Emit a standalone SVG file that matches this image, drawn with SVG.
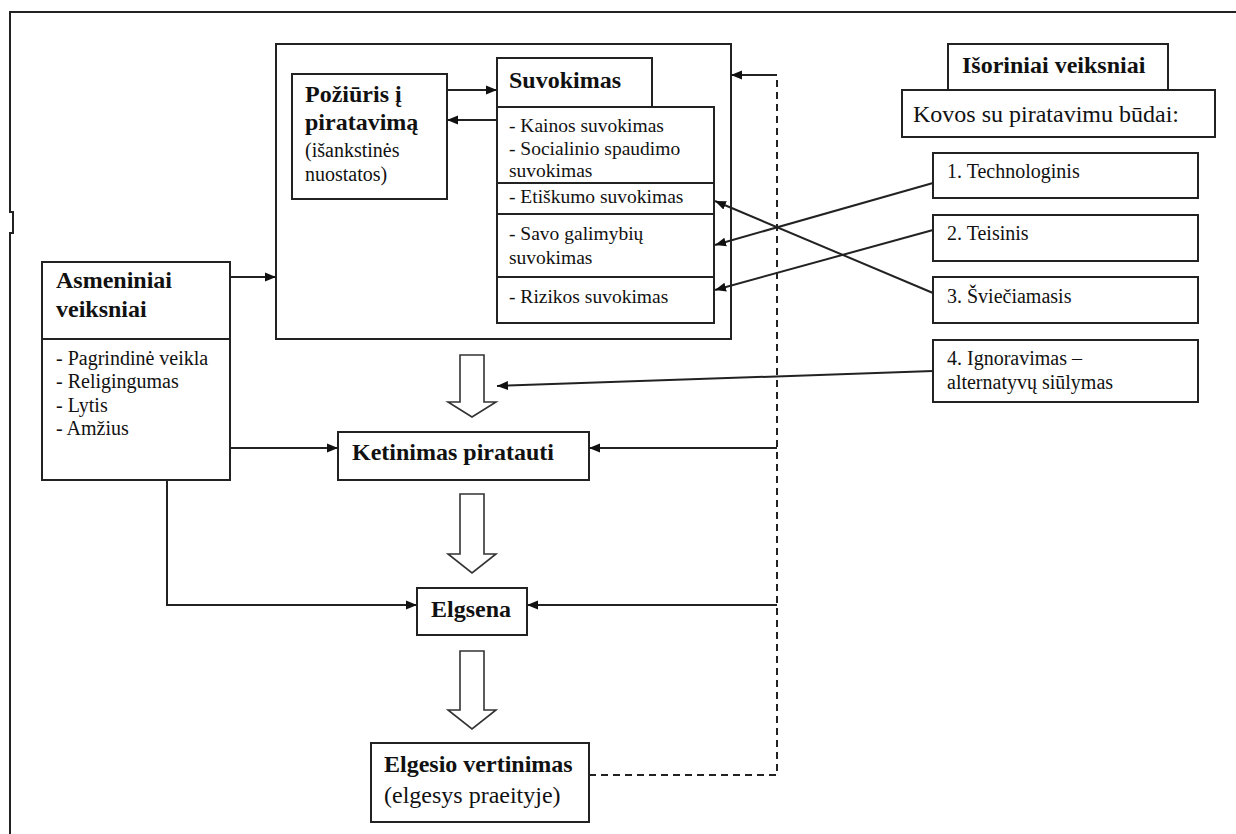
<svg xmlns="http://www.w3.org/2000/svg" width="1236" height="834" viewBox="0 0 1236 834">
<style>
.box{fill:#fff;stroke:#222;stroke-width:2}
.ln{fill:none;stroke:#222;stroke-width:2}
.dash{fill:none;stroke:#222;stroke-width:2;stroke-dasharray:7 5}
.hollow{fill:#fff;stroke:#333;stroke-width:1.6}
text{font-family:"Liberation Serif","Times New Roman","DejaVu Serif",serif;fill:#111}
.b24{font-size:24px;font-weight:bold}
.r24{font-size:24px;font-weight:normal}
.r20{font-size:20px;font-weight:normal}
.r19{font-size:19.5px;font-weight:normal}
</style>
<defs>
<marker id="ah" markerUnits="userSpaceOnUse" markerWidth="12" markerHeight="10" refX="11" refY="5" orient="auto">
<path d="M0,0.5 L11,5 L0,9.5 z" fill="#111"/>
</marker>
</defs>
<rect width="1236" height="834" fill="#fff"/>
<path class="ln" d="M1236 12 H10 V212 H13 V233 H10 V834"/>

<g id="suvokimas-container">
<rect class="box" x="276" y="44" width="455" height="295"/>
</g>
<g id="poziuris">
<rect class="box" x="292" y="74" width="155" height="125"/>
<text class="b24" x="305" y="102">Požiūris į</text>
<text class="b24" x="305" y="130">piratavimą</text>
<text class="r20" x="305" y="157">(išankstinės</text>
<text class="r20" x="305" y="181">nuostatos)</text>
</g>
<g id="suvokimas">
<rect class="box" x="497" y="58" width="155" height="49"/>
<text class="b24" x="509" y="88">Suvokimas</text>
<rect class="box" x="497" y="107" width="217" height="216"/>
<line class="ln" x1="497" y1="183" x2="714" y2="183"/>
<line class="ln" x1="497" y1="214" x2="714" y2="214"/>
<line class="ln" x1="497" y1="277" x2="714" y2="277"/>
<text class="r19" x="509" y="132">- Kainos suvokimas</text>
<text class="r19" x="509" y="155">- Socialinio spaudimo</text>
<text class="r19" x="509" y="177">suvokimas</text>
<text class="r19" x="509" y="203">- Etiškumo suvokimas</text>
<text class="r19" x="509" y="240">- Savo galimybių</text>
<text class="r19" x="509" y="264">suvokimas</text>
<text class="r19" x="509" y="303">- Rizikos suvokimas</text>
</g>
<g id="isoriniai">
<rect class="box" x="948" y="44" width="220" height="46"/>
<text class="b24" x="962" y="73">Išoriniai veiksniai</text>
<rect class="box" x="902" y="90" width="313" height="47"/>
<text class="r24" x="913" y="122">Kovos su piratavimu būdai:</text>
</g>
<g id="m1">
<rect class="box" x="933" y="153" width="265" height="45"/>
<text class="r20" x="947" y="178">1. Technologinis</text>
</g>
<g id="m2">
<rect class="box" x="933" y="215" width="265" height="46"/>
<text class="r20" x="947" y="240">2. Teisinis</text>
</g>
<g id="m3">
<rect class="box" x="933" y="277" width="265" height="46"/>
<text class="r20" x="947" y="303">3. Šviečiamasis</text>
</g>
<g id="m4">
<rect class="box" x="933" y="340" width="265" height="62"/>
<text class="r20" x="947" y="365">4. Ignoravimas –</text>
<text class="r20" x="947" y="389">alternatyvų siūlymas</text>
</g>
<g id="asmeniniai">
<rect class="box" x="42" y="262" width="188" height="218"/>
<line class="ln" x1="42" y1="339" x2="230" y2="339"/>
<text class="b24" x="56" y="288">Asmeniniai</text>
<text class="b24" x="56" y="317">veiksniai</text>
<text class="r20" x="56" y="365">- Pagrindinė veikla</text>
<text class="r20" x="56" y="388">- Religingumas</text>
<text class="r20" x="56" y="412">- Lytis</text>
<text class="r20" x="56" y="435">- Amžius</text>
</g>
<g id="ketinimas">
<rect class="box" x="338" y="432" width="251" height="48"/>
<text class="b24" x="352" y="460">Ketinimas piratauti</text>
</g>
<g id="elgsena">
<rect class="box" x="417" y="588" width="110" height="47"/>
<text class="b24" x="431" y="617">Elgsena</text>
</g>
<g id="elgesio">
<rect class="box" x="371" y="743" width="218" height="79"/>
<text class="b24" x="384" y="772">Elgesio vertinimas</text>
<text class="r24" x="384" y="803">(elgesys praeityje)</text>
</g>

<g id="connectors">
<polygon class="hollow" points="460,355 484,355 484,402 496,402 472,417 448,402 460,402"/>
<polygon class="hollow" points="460,494 484,494 484,554 496,554 472,573 448,554 460,554"/>
<polygon class="hollow" points="460,651 484,651 484,710 496,710 472,729 448,710 460,710"/>
<line class="ln" x1="447" y1="90" x2="497" y2="90" marker-end="url(#ah)"/>
<line class="ln" x1="497" y1="120" x2="447" y2="120" marker-end="url(#ah)"/>
<line class="ln" x1="933" y1="183" x2="715" y2="245" marker-end="url(#ah)"/>
<line class="ln" x1="933" y1="230" x2="715" y2="290" marker-end="url(#ah)"/>
<line class="ln" x1="933" y1="293" x2="715" y2="201" marker-end="url(#ah)"/>
<line class="ln" x1="933" y1="371" x2="497" y2="386" marker-end="url(#ah)"/>
<line class="ln" x1="230" y1="277" x2="276" y2="277" marker-end="url(#ah)"/>
<line class="ln" x1="230" y1="448" x2="338" y2="448" marker-end="url(#ah)"/>
<polyline class="ln" points="167,480 167,605 417,605" marker-end="url(#ah)"/>
<line class="ln" x1="777" y1="75" x2="731" y2="75" marker-end="url(#ah)"/>
<line class="ln" x1="777" y1="448" x2="589" y2="448" marker-end="url(#ah)"/>
<line class="ln" x1="777" y1="605" x2="527" y2="605" marker-end="url(#ah)"/>
<polyline class="dash" points="589,775 777,775 777,75"/>
</g>
</svg>
